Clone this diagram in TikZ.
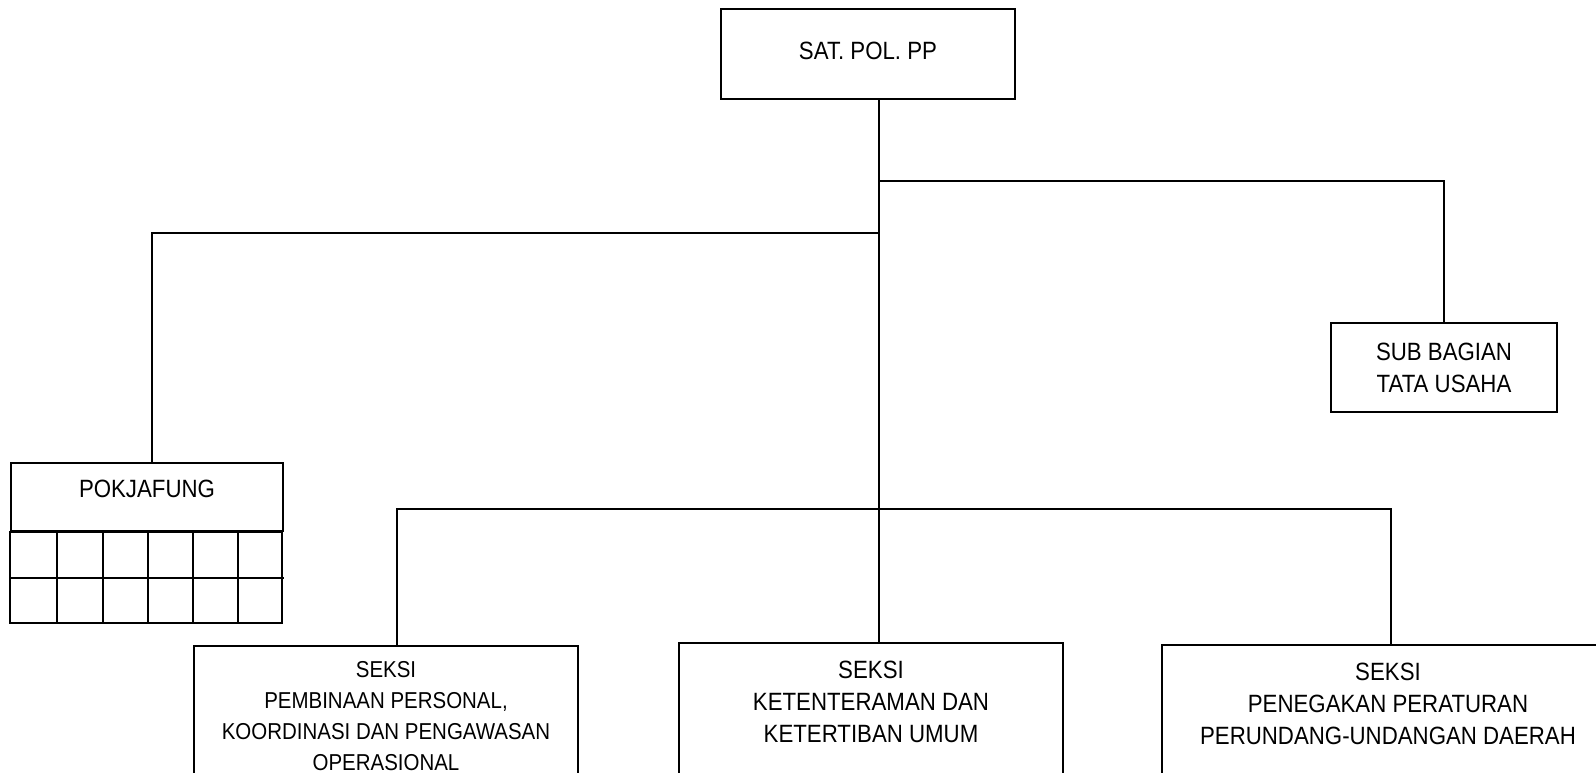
\documentclass[tikz,border=0pt]{standalone}
\usepackage{fontspec}
\setmainfont[FakeStretch=0.89]{Liberation Sans}
\usetikzlibrary{positioning}
\tikzset{
    box/.style={rectangle, draw, line width=2.1pt, align=center, font=\fontsize{25}{32}\selectfont},
    seksi/.style={box, anchor=north, minimum width=384pt, minimum height=170pt},
    seksitext/.style={anchor=north, yshift=-19pt, inner sep=0pt, align=center, font=\fontsize{25}{32}\selectfont},
    link/.style={line width=2.1pt},
}

\begin{document}
\begin{tikzpicture}[x=1pt, y=-1pt]
\useasboundingbox (0,0) rectangle (1596,772);
\clip (0,0) rectangle (1596,772);

% Kepala
\node[box, minimum width=294pt, minimum height=90pt, text depth=6pt] (sat) at (868,54) {SAT. POL. PP};

% Tata usaha
\node[box, minimum width=226pt, minimum height=89pt] (sub) at (1444,367.5) {SUB BAGIAN\\TATA USAHA};

% Pokjafung
\node[box, minimum width=272pt, minimum height=68pt, text depth=16pt] (pok) at (147,497) {POKJAFUNG};
\draw[link] (pok.south west) rectangle ++(272,91);
\draw[link] (pok.south west) ++(0,46) -- ++(274,0);
\foreach \x in {47,93,138,183,228}
    \draw[link] (pok.south west) ++(\x,0) -- ++(0,91);

% Seksi
\node[seksi, label={[seksitext, yshift=3pt, font=\fontsize{23}{31}\selectfont]north:{SEKSI\\PEMBINAAN PERSONAL,\\KOORDINASI DAN PENGAWASAN\\OPERASIONAL}}] (kpo) at (386,645) {};
\node[seksi, label={[seksitext]north:{SEKSI\\KETENTERAMAN DAN\\KETERTIBAN UMUM}}] (ktu) at (871,642) {};
\node[seksi, minimum width=452pt, label={[seksitext]north:{SEKSI\\PENEGAKAN PERATURAN\\PERUNDANG-UNDANGAN DAERAH}}] (pud) at (1388,644) {};

% Garis
\coordinate (bR) at (879,181);
\coordinate (bL) at (879,233);
\coordinate (bB) at (879,509);
\coordinate (barL) at (397,509);
\coordinate (barR) at (1391,509);

\draw[link] (sat.south -| bB) -- (ktu.north -| bB);
\draw[link] (bR) -| (sub.north);
\draw[link] (bL) -| ([xshift=5pt]pok.north);
\draw[link] (kpo.north -| barL) |- (barR) -- (barR |- pud.north);

\end{tikzpicture}
\end{document}
